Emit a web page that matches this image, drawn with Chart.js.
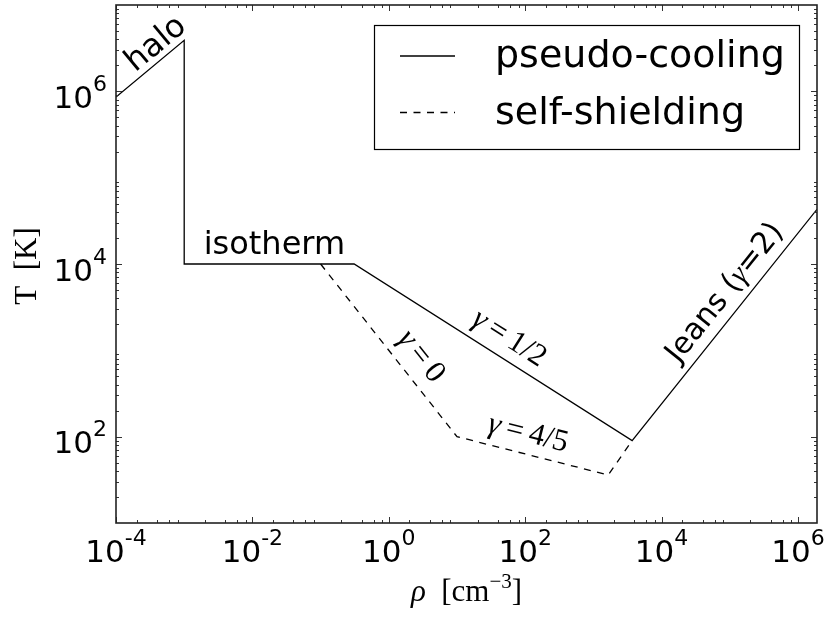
<!DOCTYPE html>
<html lang="en">
<head>
<meta charset="UTF-8">
<title>T vs rho</title>
<script src="https://cdn.jsdelivr.net/npm/chart.js"></script>
<style>
  html, body { margin: 0; padding: 0; background: #fff; }
  .wrap { width: 830px; height: 623px; position: relative; }
</style>
</head>
<body>
<div class="wrap"><canvas id="chart"></canvas></div>
<script>
// pseudo-cooling track (solid)
const pseudoRho = [1e-4, 1e-3, 1e-3, 0.31, 3.7e3, 1.9e6];
const pseudoT   = [8.6e5, 3.9e6, 1.0e4, 1.0e4, 90, 4.3e4];
// self-shielding track (dashed)
const shieldRho = [0.1, 10, 1.65e3, 3.7e3];
const shieldT   = [1.0e4, 100, 36, 90];

const seriesNames = ['pseudo-cooling', 'self-shielding'];

// axes
const xRange = [1e-4, 1.9e6];
const yRange = [10, 1e7];
const xTickValues = [1e-4, 1e-2, 1, 1e2, 1e4, 1e6];
const xTickExps   = ['-4', '-2', '0', '2', '4', '6'];
const yTickValues = [1e2, 1e4, 1e6];
const yTickExps   = ['2', '4', '6'];
const xMinorSubs = [2, 4, 6, 8];
const yMinorSubs = [2, 3, 4, 5, 6, 7, 8, 9];

// labels written along the tracks: text pieces, where (rho, T), which segment gives the angle
const curveLabels = [
    { parts: [['halo', 'sans']], rho: 3.9e-4, T: 3.5e6, series: 0, seg: 0 },
    { parts: [['isotherm', 'sans']], rho: 0.021, T: 1.64e4, series: null, seg: null },
    { parts: [['\u03B3', 'math'], ['\u2009=\u20091/2', 'serif']], rho: 58, T: 1370, series: 0, seg: 3 },
    { parts: [['\u03B3', 'math'], ['\u2009=\u20090', 'serif']], rho: 2.96, T: 850, series: 1, seg: 0 },
    { parts: [['\u03B3', 'math'], ['\u2009=\u20094/5', 'serif']], rho: 110, T: 108, series: 1, seg: 1 },
    { parts: [['Jeans (', 'sans'], ['\u03B3', 'math'], ['=2)', 'sans']], rho: 8.6e4, T: 4600, series: 0, seg: 4 }
];

const SANS = '"DejaVu Sans", "Bitstream Vera Sans", sans-serif';
const SERIF = '"Liberation Serif", "DejaVu Serif", serif';

function fontFor(kind, size) {
    if (kind === 'math') return `italic ${size}px ${SERIF}`;
    if (kind === 'serif') return `${size}px ${SERIF}`;
    return `${size}px ${SANS}`;
}

function toPoints(xs, ys) {
    return xs.map((v, i) => ({ x: v, y: ys[i] }));
}

// draws mixed-font text centred on (cx, cy), rotated by angle
function drawParts(ctx, parts, size, cx, cy, angle) {
    let total = 0;
    const widths = parts.map(([t, k]) => {
        ctx.font = fontFor(k, size);
        const w = ctx.measureText(t).width;
        total += w;
        return w;
    });
    ctx.save();
    ctx.translate(cx, cy);
    ctx.rotate(angle);
    ctx.textBaseline = 'middle';
    ctx.textAlign = 'left';
    ctx.fillStyle = '#000';
    let px = -total / 2;
    parts.forEach(([t, k], i) => {
        ctx.font = fontFor(k, size);
        ctx.fillText(t, px, 0);
        px += widths[i];
    });
    ctx.restore();
}

// "10" with a superscript exponent; align 'center' or 'right' at x
function drawPow(ctx, exp, x, baseline, align) {
    ctx.textBaseline = 'alphabetic';
    ctx.textAlign = 'left';
    ctx.fillStyle = '#000';
    ctx.font = `31px ${SANS}`;
    const wMain = ctx.measureText('10').width;
    ctx.font = `22px ${SANS}`;
    const wExp = ctx.measureText(exp).width;
    const total = wMain + wExp;
    const x0 = align === 'center' ? x - total / 2 : x - total;
    ctx.font = `31px ${SANS}`;
    ctx.fillText('10', x0, baseline);
    ctx.font = `22px ${SANS}`;
    ctx.fillText(exp, x0 + wMain, baseline - 17);
}

const seriesX = [pseudoRho, shieldRho];
const seriesY = [pseudoT, shieldT];

const decor = {
    id: 'decor',
    afterDatasetsDraw(chart) {
        const { ctx, chartArea: a, scales: { x, y } } = chart;
        ctx.save();

        // inward ticks on all four sides
        ctx.strokeStyle = '#333';
        ctx.lineWidth = 1;
        const tickX = (v, len) => {
            const px = Math.round(x.getPixelForValue(v)) + 0.5;
            if (px < a.left || px > a.right) return;
            ctx.beginPath();
            ctx.moveTo(px, a.bottom); ctx.lineTo(px, a.bottom - len);
            ctx.moveTo(px, a.top); ctx.lineTo(px, a.top + len);
            ctx.stroke();
        };
        const tickY = (v, len) => {
            const py = Math.round(y.getPixelForValue(v)) + 0.5;
            if (py < a.top || py > a.bottom) return;
            ctx.beginPath();
            ctx.moveTo(a.left, py); ctx.lineTo(a.left + len, py);
            ctx.moveTo(a.right, py); ctx.lineTo(a.right - len, py);
            ctx.stroke();
        };
        for (let e = -5; e <= 7; e++) xMinorSubs.forEach(s => tickX(s * Math.pow(10, e), 3));
        for (let e = 0; e <= 7; e++) yMinorSubs.forEach(s => tickY(s * Math.pow(10, e), 3));
        xTickValues.forEach(v => tickX(v, 6));
        yTickValues.forEach(v => tickY(v, 6));

        // frame
        ctx.strokeStyle = '#222';
        ctx.lineWidth = 1.6;
        ctx.strokeRect(a.left, a.top, a.right - a.left, a.bottom - a.top);

        // tick labels
        xTickValues.forEach((v, i) => drawPow(ctx, xTickExps[i], x.getPixelForValue(v), a.bottom + 39, 'center'));
        yTickValues.forEach((v, i) => drawPow(ctx, yTickExps[i], a.left - 9, y.getPixelForValue(v) + 16.5, 'right'));

        // axis titles
        ctx.fillStyle = '#000';
        ctx.textBaseline = 'alphabetic';
        ctx.textAlign = 'left';
        const xt = [['\u03C1', `italic 31px ${SERIF}`, 0], ['\u2002[cm', `31px ${SERIF}`, 0], ['\u22123', `21px ${SERIF}`, -13], [']', `31px ${SERIF}`, 0]];
        let tw = 0;
        xt.forEach(p => { ctx.font = p[1]; p.push(ctx.measureText(p[0]).width); tw += p[3]; });
        let tx = (a.left + a.right) / 2 - tw / 2;
        xt.forEach(p => { ctx.font = p[1]; ctx.fillText(p[0], tx, 601 + p[2]); tx += p[3]; });

        ctx.save();
        ctx.translate(28, 266);
        ctx.rotate(-Math.PI / 2);
        ctx.font = `31px ${SERIF}`;
        ctx.textAlign = 'center';
        ctx.textBaseline = 'middle';
        ctx.fillText('T\u2002[K]', 0, 0);
        ctx.restore();

        // labels along the tracks
        curveLabels.forEach(l => {
            let ang = 0;
            if (l.series !== null) {
                const xs = seriesX[l.series], ys = seriesY[l.series];
                const dx = x.getPixelForValue(xs[l.seg + 1]) - x.getPixelForValue(xs[l.seg]);
                const dy = y.getPixelForValue(ys[l.seg + 1]) - y.getPixelForValue(ys[l.seg]);
                ang = Math.atan2(dy, dx);
            }
            const size = l.parts[0][1] === 'math' ? 31 : (l.parts.length > 1 ? 30 : 32);
            drawParts(ctx, l.parts, size, x.getPixelForValue(l.rho), y.getPixelForValue(l.T), ang);
        });

        // legend box
        const lg = { left: 374, top: 25, right: 799, bottom: 149 };
        ctx.fillStyle = '#fff';
        ctx.fillRect(lg.left, lg.top, lg.right - lg.left, lg.bottom - lg.top);
        ctx.strokeStyle = '#000';
        ctx.lineWidth = 1.2;
        ctx.strokeRect(lg.left + 0.5, lg.top + 0.5, lg.right - lg.left, lg.bottom - lg.top);
        chart.data.datasets.forEach((ds, i) => {
            const ly = [56, 112.5][i];
            ctx.beginPath();
            ctx.setLineDash(ds.borderDash || []);
            ctx.strokeStyle = ds.borderColor;
            ctx.lineWidth = ds.borderWidth;
            ctx.moveTo(400, ly);
            ctx.lineTo(455, ly);
            ctx.stroke();
            ctx.setLineDash([]);
            ctx.fillStyle = '#000';
            ctx.font = `38px ${SANS}`;
            ctx.textAlign = 'left';
            ctx.textBaseline = 'alphabetic';
            ctx.fillText(ds.label, 495, ly + 11);
        });

        ctx.restore();
    }
};

new Chart(document.getElementById('chart').getContext('2d'), {
    type: 'scatter',
    data: {
        datasets: [{
            label: seriesNames[0],
            data: toPoints(pseudoRho, pseudoT),
            showLine: true,
            borderColor: '#000',
            borderWidth: 1.3,
            pointRadius: 0,
            fill: false
        }, {
            label: seriesNames[1],
            data: toPoints(shieldRho, shieldT),
            showLine: true,
            borderColor: '#000',
            borderWidth: 1.3,
            borderDash: [7, 6.5],
            pointRadius: 0,
            fill: false
        }]
    },
    options: {
        responsive: true,
        maintainAspectRatio: false,
        animation: false,
        layout: { padding: { left: 116, right: 13, top: 5, bottom: 100 } },
        plugins: {
            legend: { display: false },
            tooltip: { enabled: false }
        },
        scales: {
            x: { type: 'logarithmic', min: xRange[0], max: xRange[1], display: false },
            y: { type: 'logarithmic', min: yRange[0], max: yRange[1], display: false }
        }
    },
    plugins: [decor]
});
</script>
</body>
</html>
